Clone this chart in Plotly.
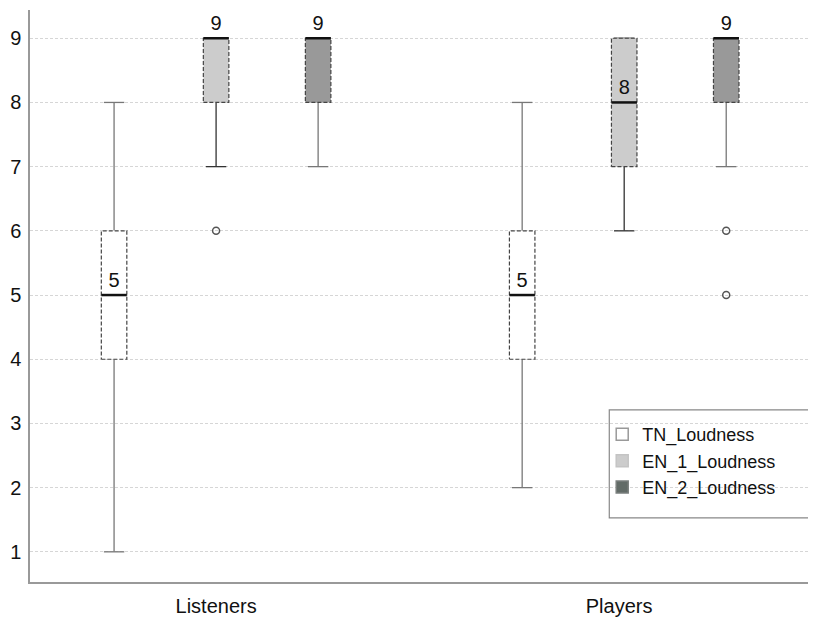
import plotly.graph_objects as go

groups = ["Listeners", "Players"]
group_pos = [0, 4]
series = ["TN_Loudness", "EN_1_Loudness", "EN_2_Loudness"]
offsets = [-1, 0, 1]

q1 = {"TN_Loudness": [4, 4], "EN_1_Loudness": [8, 7], "EN_2_Loudness": [8, 8]}
median = {"TN_Loudness": [5, 5], "EN_1_Loudness": [9, 8], "EN_2_Loudness": [9, 9]}
q3 = {"TN_Loudness": [6, 6], "EN_1_Loudness": [9, 9], "EN_2_Loudness": [9, 9]}
lower = {"TN_Loudness": [1, 2], "EN_1_Loudness": [7, 6], "EN_2_Loudness": [7, 7]}
upper = {"TN_Loudness": [8, 8], "EN_1_Loudness": [9, 9], "EN_2_Loudness": [9, 9]}
outliers = {"TN_Loudness": [[], []], "EN_1_Loudness": [[6], []], "EN_2_Loudness": [[], [6, 5]]}

fill_colors = {"TN_Loudness": "#ffffff", "EN_1_Loudness": "#cccccc", "EN_2_Loudness": "#999999"}
legend_colors = {"TN_Loudness": "#ffffff", "EN_1_Loudness": "#cccccc", "EN_2_Loudness": "#626b67"}
legend_line = {"TN_Loudness": "#999999", "EN_1_Loudness": "#c4c4c4", "EN_2_Loudness": "#7a7f7d"}
whisker_colors = {"TN_Loudness": "#777777", "EN_1_Loudness": "#333333", "EN_2_Loudness": "#777777"}

half_w = 0.125
cap_w = 0.1
font = "Arial, Liberation Sans, sans-serif"

fig = go.Figure()

for s, off in zip(series, offsets):
    for gi, gp in enumerate(group_pos):
        c = gp + off
        wx = [c, c, None, c, c, None, c - cap_w, c + cap_w, None, c - cap_w, c + cap_w]
        wy = [q1[s][gi], lower[s][gi], None, q3[s][gi], upper[s][gi], None,
              lower[s][gi], lower[s][gi], None, upper[s][gi], upper[s][gi]]
        fig.add_trace(go.Scatter(x=wx, y=wy, mode="lines", showlegend=False,
                                 line=dict(color=whisker_colors[s], width=1.3),
                                 hoverinfo="skip"))
        bx = [c - half_w, c + half_w, c + half_w, c - half_w, c - half_w]
        by = [q1[s][gi], q1[s][gi], q3[s][gi], q3[s][gi], q1[s][gi]]
        fig.add_trace(go.Scatter(x=bx, y=by, mode="lines", fill="toself",
                                 fillcolor=fill_colors[s], showlegend=False,
                                 line=dict(color="#444444", width=1.2, dash="4px,2px")))
        fig.add_trace(go.Scatter(x=[c - half_w, c + half_w], y=[median[s][gi]] * 2,
                                 mode="lines", showlegend=False,
                                 line=dict(color="#111111", width=2.5)))
        fig.add_trace(go.Scatter(x=[c], y=[median[s][gi] + 0.05], mode="text",
                                 text=[str(median[s][gi])], textposition="top center",
                                 textfont=dict(family=font, size=20, color="#111111"),
                                 showlegend=False))
        if outliers[s][gi]:
            fig.add_trace(go.Scatter(x=[c] * len(outliers[s][gi]), y=outliers[s][gi],
                                     mode="markers", showlegend=False,
                                     marker=dict(symbol="circle-open", size=7,
                                                 color="#555555", line=dict(width=1.5))))

# legend entries
for s in series:
    fig.add_trace(go.Bar(x=[None], y=[None], name=s,
                         marker=dict(color=legend_colors[s],
                                     line=dict(color=legend_line[s], width=1.5))))

# page body has an 8px margin, so the figure is 8px smaller and offset
fig.update_layout(
    width=808, height=610,
    margin=dict(l=22, r=0, t=2, b=36),
    paper_bgcolor="white", plot_bgcolor="white",
    font=dict(family=font, size=20, color="#111111"),
    xaxis=dict(range=[-1.824, 5.88], tickvals=[0, 3.95],
               ticktext=groups, showgrid=False, zeroline=False,
               showline=True, linecolor="#999999", linewidth=1.5,
               ticks="outside", ticklen=5, tickcolor="rgba(0,0,0,0)",
               tickfont=dict(size=20), automargin=False),
    yaxis=dict(range=[0.53, 9.44], tickvals=list(range(1, 10)),
               showgrid=True, gridcolor="#d6d6d6", griddash="3px,2px", gridwidth=1,
               zeroline=False, showline=True, linecolor="#999999", linewidth=1.5,
               ticks="outside", ticklen=3, tickcolor="rgba(0,0,0,0)",
               tickfont=dict(size=20), automargin=False),
    showlegend=True,
    legend=dict(x=0.728, y=0.29, xanchor="left", yanchor="top",
                bgcolor="rgba(0,0,0,0)", borderwidth=0,
                font=dict(size=18), tracegroupgap=0, itemwidth=30),
    shapes=[dict(type="rect", xref="paper", yref="paper",
                 x0=0.737, x1=0.992, y0=0.112, y1=0.301,
                 line=dict(color="#888888", width=1.2), fillcolor="rgba(0,0,0,0)")],
)

fig.write_html("out.html")
